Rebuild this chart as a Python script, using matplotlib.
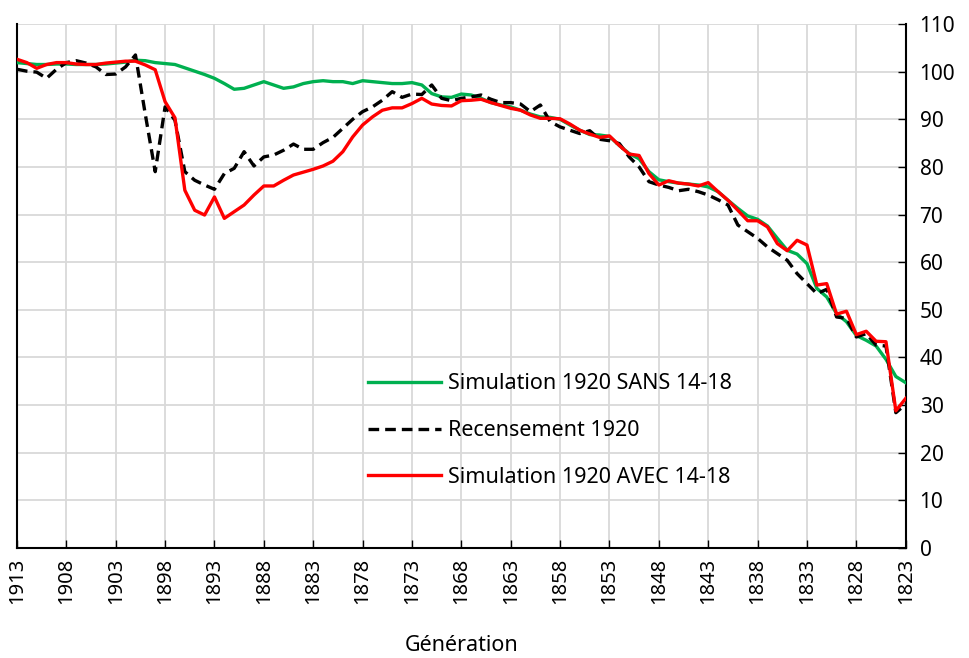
import numpy as np
import matplotlib
matplotlib.use("Agg")
import matplotlib.pyplot as plt

plt.rcParams['font.family'] = ['Noto Sans', 'DejaVu Sans']

# générations 1913 -> 1823
generations = np.arange(1913, 1822, -1)

sans_1418 = [101.9, 101.7, 101.5, 101.5, 101.6, 101.6, 101.5, 101.5, 101.5, 101.6,
             101.8, 102.0, 102.4, 102.3, 101.9, 101.7, 101.5, 100.8, 100.1, 99.4,
             98.6, 97.5, 96.3, 96.5, 97.2, 97.9, 97.2, 96.5, 96.8, 97.5,
             97.9, 98.1, 97.9, 97.9, 97.5, 98.1, 97.9, 97.7, 97.5, 97.5,
             97.7, 97.2, 95.4, 94.7, 94.6, 95.3, 95.1, 94.4, 93.5, 93.0,
             92.6, 91.9, 91.1, 90.5, 90.4, 90.0, 88.8, 87.7, 86.8, 86.7,
             86.4, 84.5, 82.8, 81.7, 79.0, 77.3, 76.9, 76.6, 76.4, 76.2,
             75.8, 74.8, 73.0, 71.3, 69.7, 69.0, 67.6, 65.0, 62.5, 61.7,
             59.7, 54.5, 52.7, 49.2, 47.5, 44.6, 43.6, 42.4, 39.6, 36.0,
             34.7]

recensement = [100.5, 100.1, 99.9, 98.6, 100.5, 101.9, 102.3, 101.8, 101.0, 99.4,
               99.5, 101.0, 103.5, 91.0, 79.0, 92.6, 89.8, 79.0, 77.2, 76.2,
               75.3, 78.6, 79.7, 83.2, 80.2, 82.1, 82.5, 83.5, 84.8, 83.7,
               83.7, 85.1, 86.2, 88.1, 90.0, 91.6, 92.6, 94.0, 95.8, 94.6,
               95.3, 95.2, 97.2, 94.4, 93.9, 94.4, 94.7, 95.1, 94.2, 93.5,
               93.5, 93.2, 91.6, 93.0, 89.5, 88.4, 87.7, 87.0, 87.6, 85.8,
               85.5, 84.9, 82.1, 80.0, 76.9, 76.2, 75.7, 75.0, 75.3, 74.8,
               74.1, 73.1, 72.0, 67.8, 66.4, 65.0, 63.2, 61.8, 60.4, 57.6,
               55.5, 53.4, 54.3, 48.5, 48.2, 44.3, 45.0, 42.6, 42.4, 28.4,
               30.2]

avec_1418 = [102.6, 101.9, 100.7, 101.5, 101.9, 101.9, 101.6, 101.5, 101.5, 101.8,
             102.0, 102.2, 102.2, 101.4, 100.4, 93.7, 90.3, 75.1, 70.9, 69.9,
             73.7, 69.2, 70.6, 72.0, 74.1, 76.0, 76.0, 77.2, 78.3, 78.9,
             79.5, 80.2, 81.2, 83.2, 86.3, 88.8, 90.5, 91.9, 92.4, 92.4,
             93.3, 94.4, 93.2, 92.9, 92.8, 93.9, 94.0, 94.2, 93.5, 92.9,
             92.3, 91.9, 90.9, 90.2, 90.2, 90.1, 89.0, 87.7, 86.9, 86.2,
             86.5, 84.5, 82.7, 82.4, 78.6, 76.2, 77.1, 76.6, 76.4, 76.0,
             76.7, 74.8, 73.0, 70.9, 68.7, 68.7, 67.4, 63.9, 62.4, 64.6,
             63.6, 55.2, 55.5, 49.1, 49.7, 44.8, 45.5, 43.4, 43.3, 28.8,
             31.4]

fig = plt.figure(figsize=(9.69, 6.58), dpi=100)
ax = fig.add_axes([0.0175, 0.1672, 0.9172, 0.7963])

ax.plot(generations, sans_1418, color='#00B050', lw=2.4, label='Simulation 1920 SANS 14-18', zorder=3)
ax.plot(generations, recensement, color='black', lw=2.4, ls=(0, (3.2, 1.8)), label='Recensement 1920', zorder=4)
ax.plot(generations, avec_1418, color='#FF0000', lw=2.4, label='Simulation 1920 AVEC 14-18', zorder=5)

ax.set_xlim(1913, 1823)
ax.set_ylim(0, 110)
ax.set_xticks(np.arange(1913, 1822, -5))
ax.set_xticklabels([str(g) for g in range(1913, 1822, -5)], rotation=90, fontsize=14.5)
ax.set_yticks(np.arange(0, 111, 10))
ax.yaxis.tick_right()
ax.tick_params(axis='y', direction='in', length=6, width=1, labelsize=15, pad=10)
ax.tick_params(axis='x', direction='in', length=6, width=1, pad=7)
ax.grid(True, color='#D9D9D9', lw=1.3, zorder=0)
ax.set_axisbelow(True)

for s in ['left', 'bottom', 'right']:
    ax.spines[s].set_color('black')
    ax.spines[s].set_linewidth(1.5)
ax.spines['top'].set_visible(False)

ax.set_xlabel('Génération', fontsize=15.5, labelpad=22)

ax.legend(loc='upper left', bbox_to_anchor=(0.385, 0.35), frameon=False, fontsize=15.5,
          handlelength=3.4, handletextpad=0.35, labelspacing=1.2, borderaxespad=0)

fig.savefig('out.png', dpi=100)
